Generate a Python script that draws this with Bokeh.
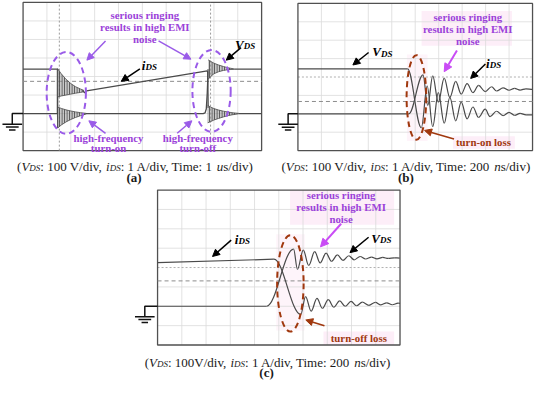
import numpy as np
from bokeh.plotting import figure
from bokeh.models import Range1d, Arrow, NormalHead
from bokeh.core.properties import value
from bokeh.embed import file_html
from bokeh.resources import INLINE

# ---------------- data ----------------
# panel (a): time in us, VDS in V, iDS in A
a_vds_pre_t = [0, 1.44, 1.45]
a_vds_pre_v = [240, 240, -78]
a_vds_on_t = [1.45, 1.6, 1.8, 2.0, 2.2, 2.4, 2.65]
a_vds_on_hi = [35, 28, 20, 14, 9, 5, 1]
a_vds_on_lo = [-78, -62, -45, -32, -21, -12, -2]
a_vds_mid_t = [2.62, 7.55, 7.63, 7.68, 7.72, 7.76]
a_vds_mid_v = [0, 0, 4, 25, 110, 240]
a_vds_off_t = [7.76, 7.85, 8.0, 8.2, 8.4, 8.6, 8.85]
a_vds_off_hi = [290, 283, 272, 262, 254, 247, 241]
a_vds_off_lo = [185, 198, 215, 226, 233, 237, 239]
a_vds_post_t = [8.85, 10]
a_vds_post_v = [240, 240]

a_ids_pre_t = [0, 1.44, 1.45]
a_ids_pre_i = [0, 0, 2.42]
a_ids_on_t = [1.45, 1.6, 1.8, 2.0, 2.2, 2.4, 2.55]
a_ids_on_hi = [2.42, 2.15, 1.85, 1.62, 1.45, 1.33, 1.25]
a_ids_on_lo = [0.9, 0.95, 1.0, 1.05, 1.1, 1.14, 1.18]
a_ids_ramp_t = [2.5, 2.58, 2.66, 7.72, 7.74, 7.76]
a_ids_ramp_i = [1.25, 1.12, 1.22, 2.3, 2.25, 0.3]
a_ids_off_t = [7.74, 7.85, 8.0, 8.2, 8.4, 8.6, 8.8, 9.05]
a_ids_off_hi = [0.44, 0.36, 0.27, 0.19, 0.13, 0.08, 0.04, 0.01]
a_ids_off_lo = [-0.5, -0.44, -0.35, -0.26, -0.18, -0.11, -0.06, -0.01]
a_ids_post_t = [9.05, 10]
a_ids_post_i = [0, 0]
a_cursor_t = [1.52, 7.86]
a_marker_v = 174

# panel (b): time in ns
b_vds_flat_t = [0, 935]
b_vds_flat_v = [244, 244]
b_vds_ring_t = [935, 1052, 1102, 1149, 1197, 1247, 1295, 1345, 1392, 1442, 1492, 1540,
                1596, 1638, 1693, 1749, 1799, 1847, 1894, 1945, 2000]
b_vds_ring_v = [244, -76, 150, -69, 115, -51, 89, -38, 63, -27, 37, -20,
                25, -15, 14, -10, 8, -8, 2, -6, -6]
b_ids_flat_t = [0, 945]
b_ids_flat_i = [0, 0]
b_ids_ring_t = [945, 1066, 1107, 1149, 1197, 1247, 1295, 1345, 1392, 1442, 1492, 1540,
                1596, 1651, 1693, 1749, 1799, 1847, 1894, 1944, 2000]
b_ids_ring_i = [0, 2.12, 0.46, 2.06, 0.63, 1.94, 0.89, 1.76, 1.07, 1.64, 1.15, 1.54,
                1.21, 1.47, 1.24, 1.41, 1.28, 1.38, 1.29, 1.36, 1.33]
b_marker_v = 67

# panel (c): time in ns
c_ids_flat_t = [0, 960]
c_ids_flat_i = [2.25, 2.43]
c_ids_ring_t = [960, 1181, 1221, 1267, 1315, 1360, 1408, 1454, 1502, 1548, 1596,
                1641, 1689, 1743, 1797, 1842, 1890, 1936, 1984, 2000]
c_ids_ring_i = [2.43, -0.42, 0.50, -0.25, 0.41, -0.11, 0.34, -0.05, 0.28, 0.0, 0.25,
                0.03, 0.21, 0.05, 0.20, 0.07, 0.18, 0.08, 0.16, 0.15]
c_vds_flat_t = [0, 900]
c_vds_flat_v = [0, 0]
c_vds_ring_t = [900, 1122, 1154, 1202, 1247, 1296, 1341, 1390, 1435, 1483, 1529, 1577,
                1622, 1671, 1716, 1765, 1810, 1858, 1903, 1952, 1997]
c_vds_ring_v = [0, 295, 191, 290, 211, 282, 224, 274, 232, 265, 237, 261,
                240, 257, 244, 254, 245, 252, 247, 250, 249]
c_marker_v = 131

# ---------------- page / figure ----------------
W, H = 534, 383
XR = (3.0, 547.0)
YR = (399.0, 1.0)
KX = (XR[1] - XR[0]) / W
KY = (YR[0] - YR[1]) / H
SERIF = "Liberation Serif"
TRACE = "#4a4a4a"
GRID = "#dadada"
VIOLET_T = "#9B42D9"
VIOLET_L = "#9A5BE8"
MAGENTA = "#C94CF5"
BROWN = "#A0380E"
PINK = "#FDEEF8"
PINK2 = "#FEF4FA"

p = figure(width=W, height=H, x_range=Range1d(*XR), y_range=Range1d(*YR),
           x_axis_type=None, y_axis_type=None, output_backend="svg",
           toolbar_location=None, min_border=0)
p.grid.visible = False
p.outline_line_color = None

BOX = {"a": (26, 269, 3, 157), "b": (306, 545, 4, 157), "c": (163, 410, 198, 359)}
TDIV = {"a": 1.0, "b": 200.0, "c": 200.0}
VDIV, IDIV, ZERO_DIV = 100.0, 1.0, -2.0


def setup_panel(k):
    x0, x1, y0, y1 = BOX[k]
    sx = (x1 - x0) / 10.0
    sy = (y1 - y0) / 8.0
    td = TDIV[k]
    p.extra_x_ranges[k + "_t"] = Range1d((XR[0] - x0) / sx * td, (XR[1] - x0) / sx * td)

    def val(py, sc):
        return (4 - (py - y0) / sy - ZERO_DIV) * sc
    p.extra_y_ranges[k + "_v"] = Range1d(val(YR[0], VDIV), val(YR[1], VDIV))
    p.extra_y_ranges[k + "_i"] = Range1d(val(YR[0], IDIV), val(YR[1], IDIV))


def R(k, ch):
    return dict(x_range_name=k + "_t", y_range_name=k + "_" + ch)


def pink(l, r, t, b, c=PINK):
    p.quad(left=[l], right=[r], top=[t], bottom=[b], fill_color=c, line_color=None)


# pink highlight boxes (behind everything)
pink(432, 524, 12, 48); pink(464, 527, 142, 155); pink(417, 438, 57, 147, PINK2)
pink(298, 404, 198, 234); pink(332, 404, 345, 359); pink(284, 313, 244, 344, PINK2)


def draw_grid(k, dotted_center=False):
    td = TDIV[k]
    vlo, vhi = (-4 - ZERO_DIV) * VDIV, (4 - ZERO_DIV) * VDIV
    xs = [j * td for j in range(1, 10)]
    p.segment(x0=xs, y0=[vlo] * 9, x1=xs, y1=[vhi] * 9, line_color=GRID, line_width=0.8, **R(k, "v"))
    hs = [(d - ZERO_DIV) * VDIV for d in range(-3, 4) if not (dotted_center and d == 0)]
    p.segment(x0=[0] * len(hs), y0=hs, x1=[10 * td] * len(hs), y1=hs, line_color=GRID, line_width=0.8, **R(k, "v"))
    if dotted_center:
        c = (0 - ZERO_DIV) * VDIV
        p.segment(x0=[0], y0=[c], x1=[10 * td], y1=[c], line_color="#b0b0b0", line_width=1, line_dash="2 2", **R(k, "v"))
    p.quad(left=[0], right=[10 * td], bottom=[vlo], top=[vhi], fill_color=None,
           line_color="#505050", line_width=1.3, **R(k, "v"))


def marker(k, v):
    p.segment(x0=[0], y0=[v], x1=[10 * TDIV[k]], y1=[v], line_color="#8c8c8c", line_width=1, line_dash="4 3", **R(k, "v"))


def line(k, ch, t, y, w=1.3):
    p.line(t, y, line_color=TRACE, line_width=w, **R(k, ch))


def cluster(k, ch, t, hi, lo):
    p.varea(x=t, y1=hi, y2=lo, fill_color="#9a9a9a", fill_alpha=0.55,
            hatch_pattern="vertical_line", hatch_color="#3c3c3c", hatch_scale=2.5,
            hatch_weight=0.9, **R(k, ch))
    p.line(t, hi, line_color="#4a4a4a", line_width=0.8, **R(k, ch))
    p.line(t, lo, line_color="#4a4a4a", line_width=0.8, **R(k, ch))


def ring(k, ch, t, y, w=1.3):
    t = np.asarray(t, float); y = np.asarray(y, float)
    dt = np.diff(t)
    p.bezier(x0=t[:-1], y0=y[:-1], x1=t[1:], y1=y[1:], cx0=t[:-1] + 0.36 * dt, cy0=y[:-1],
             cx1=t[1:] - 0.36 * dt, cy1=y[1:], line_color=TRACE, line_width=w, **R(k, ch))


for k in "abc":
    setup_panel(k)

# panel a
draw_grid("a")
for ct in a_cursor_t:
    p.segment(x0=[ct], y0=[-200], x1=[ct], y1=[600], line_color="#9a9a9a", line_width=1, line_dash="2 2", **R("a", "v"))
marker("a", a_marker_v)
line("a", "v", a_vds_pre_t, a_vds_pre_v)
cluster("a", "v", a_vds_on_t, a_vds_on_hi, a_vds_on_lo)
line("a", "v", a_vds_mid_t, a_vds_mid_v)
cluster("a", "v", a_vds_off_t, a_vds_off_hi, a_vds_off_lo)
line("a", "v", a_vds_post_t, a_vds_post_v)
line("a", "i", a_ids_pre_t, a_ids_pre_i)
cluster("a", "i", a_ids_on_t, a_ids_on_hi, a_ids_on_lo)
line("a", "i", a_ids_ramp_t, a_ids_ramp_i)
cluster("a", "i", a_ids_off_t, a_ids_off_hi, a_ids_off_lo)
line("a", "i", a_ids_post_t, a_ids_post_i)

# panel b
draw_grid("b", dotted_center=True)
marker("b", b_marker_v)
line("b", "v", b_vds_flat_t, b_vds_flat_v, 1.2)
ring("b", "v", b_vds_ring_t, b_vds_ring_v, 1.2)
line("b", "i", b_ids_flat_t, b_ids_flat_i, 1.2)
ring("b", "i", b_ids_ring_t, b_ids_ring_i, 1.2)

# panel c
draw_grid("c", dotted_center=True)
marker("c", c_marker_v)
line("c", "i", c_ids_flat_t, c_ids_flat_i, 1.2)
ring("c", "i", c_ids_ring_t, c_ids_ring_i, 1.2)
line("c", "v", c_vds_flat_t, c_vds_flat_v, 1.2)
ring("c", "v", c_vds_ring_t, c_vds_ring_v, 1.2)

# ground symbols (ref pixel coordinates)
for gx, gy, arm in [(15, 118.5, 26), (296, 118.7, 306), (150, 318.6, 163)]:
    p.multi_line(xs=[[arm, gx, gx], [gx - 10, gx + 10], [gx - 6.5, gx + 6.5], [gx - 3.3, gx + 3.3]],
                 ys=[[gy, gy, gy + 11], [gy + 11, gy + 11], [gy + 14, gy + 14], [gy + 17, gy + 17]],
                 line_color="#111111", line_width=1.5)

# ellipses
p.ellipse(x=[70, 218], y=[97, 95], width=[40, 39], height=[85, 85], fill_color=None,
          line_color=VIOLET_L, line_width=2, line_dash="6 4")
p.ellipse(x=[426.7, 298.3], y=[101.7, 295], width=[20, 27], height=[88, 100], fill_color=None,
          line_color=BROWN, line_width=2, line_dash="6 4")


def arrow(x0, y0, x1, y1, c, w=1.5, s=7):
    p.add_layout(Arrow(end=NormalHead(size=s, fill_color=c, line_color=c), x_start=x0, y_start=y0,
                       x_end=x1, y_end=y1, line_color=c, line_width=w))


arrow(110, 43, 91, 63, VIOLET_L); arrow(164, 43, 197, 62, VIOLET_L)
arrow(110, 139, 93, 126, VIOLET_L); arrow(183, 139, 198, 126, VIOLET_L)
arrow(145, 72, 126, 85, "black"); arrow(248, 50, 233, 63, "black")
arrow(378, 55, 362, 68, "black"); arrow(497, 67, 482, 82, "black")
arrow(468, 53, 455, 75, MAGENTA, 2, 8); arrow(465, 145, 435, 136, BROWN, 1.6)
arrow(350, 233, 329, 257, MAGENTA, 2, 8); arrow(378, 247, 359, 263, "black")
arrow(238, 250, 219, 267, "black"); arrow(333, 339, 314, 333, BROWN, 1.6)


def ctext(lines, x, y0, dy, color, size=10.8):
    ys = [y0 + j * dy for j in range(len(lines))]
    p.text(x=[x] * len(lines), y=ys, text=lines, text_font=value(SERIF), text_font_style=value("bold"),
           text_font_size=value(f"{size}px"), text_align="center", text_baseline="middle", text_color=color)


ctext(["serious ringing", "results in high EMI", "noise"], 150, 16, 12.3, VIOLET_T)
ctext(["high-frequency", "turn-on"], 113, 144, 10.5, VIOLET_T)
ctext(["high-frequency", "turn-off"], 204, 144, 10.5, VIOLET_T)
ctext(["serious ringing", "results in high EMI", "noise"], 479, 18.3, 12.3, VIOLET_T)
ctext(["turn-on loss"], 495, 148.5, 12, BROWN)
ctext(["serious ringing", "results in high EMI", "noise"], 350, 203, 12.5, VIOLET_T)
ctext(["turn-off loss"], 368, 352, 12, BROWN)

# rich text (Times metrics)
WREG = {' ': 250, '(': 333, ')': 333, ':': 278, ',': 250, '/': 278, 'A': 722, 'T': 611, 'V': 722,
        'd': 500, 'i': 278, 'v': 500, 'm': 778, 'e': 444, 's': 389, 'n': 500, 'u': 500}
WIT = {'V': 611, 'D': 722, 'S': 500, 'i': 278, 'u': 500, 'n': 500}
WBI = {'V': 667, 'D': 722, 'S': 556, 'i': 278}
TABLES = {"normal": WREG, "italic": WIT, "bold italic": WBI}


def tw(s, style, size):
    tb = TABLES.get(style, WREG)
    return sum(tb.get(ch, WREG.get(ch, 500)) for ch in s) * size / 1000.0


def rich(segs, x, y, align="center", color="#1a1a1a"):
    # each seg: (text, style, size_px, baseline shift px, extra gap after px)
    widths = [tw(s, st, sz) + gap for (s, st, sz, dy, gap) in segs]
    cx = x - sum(widths) / 2 * KX if align == "center" else x
    for (s, st, sz, dy, gap), wdt in zip(segs, widths):
        p.text(x=[cx], y=[y + dy * KY], text=[s], text_font=value(SERIF), text_font_style=value(st),
               text_font_size=value(f"{sz}px"), text_align="left", text_baseline="alphabetic", text_color=color)
        cx += wdt * KX


def label(sym, x, y):
    rich([(sym, "bold italic", 13, 0, 0), ("DS", "bold italic", 9, 2, 0)], x, y, align="left", color="#000000")


label("i", 147, 68.3); label("V", 242, 46.7)
label("V", 381.7, 54); label("i", 497.7, 66)
label("V", 380.7, 248); label("i", 241.7, 249.3)


def caption(v_sp, time_val, unit, x, y):
    segs = [("(", "normal", 13, 0, 0), ("V", "italic", 13, 0, 0), ("DS", "italic", 9, 1.5, 0),
            (f": 100{v_sp}V/div,", "normal", 13, 0, 3.2), ("i", "italic", 13, 0, 0), ("DS", "italic", 9, 1.5, 0),
            (f": 1 A/div, Time: {time_val}", "normal", 13, 0, 2.6), (unit, "italic", 13, 0, 0),
            ("s/div)", "normal", 13, 0, 0)]
    rich(segs, x, y)


caption(" ", "1", "u", 140, 174)
caption(" ", "200", "n", 416, 174)
caption("", "200", "n", 275, 377.5)
p.text(x=[139, 416, 274], y=[184.5, 184.5, 387.5], text=["(a)", "(b)", "(c)"], text_font=value(SERIF),
       text_font_style=value("bold"), text_font_size=value("13px"), text_align="center",
       text_baseline="middle", text_color="#1a1a1a")

open("out.html", "w").write(file_html(p, INLINE))
